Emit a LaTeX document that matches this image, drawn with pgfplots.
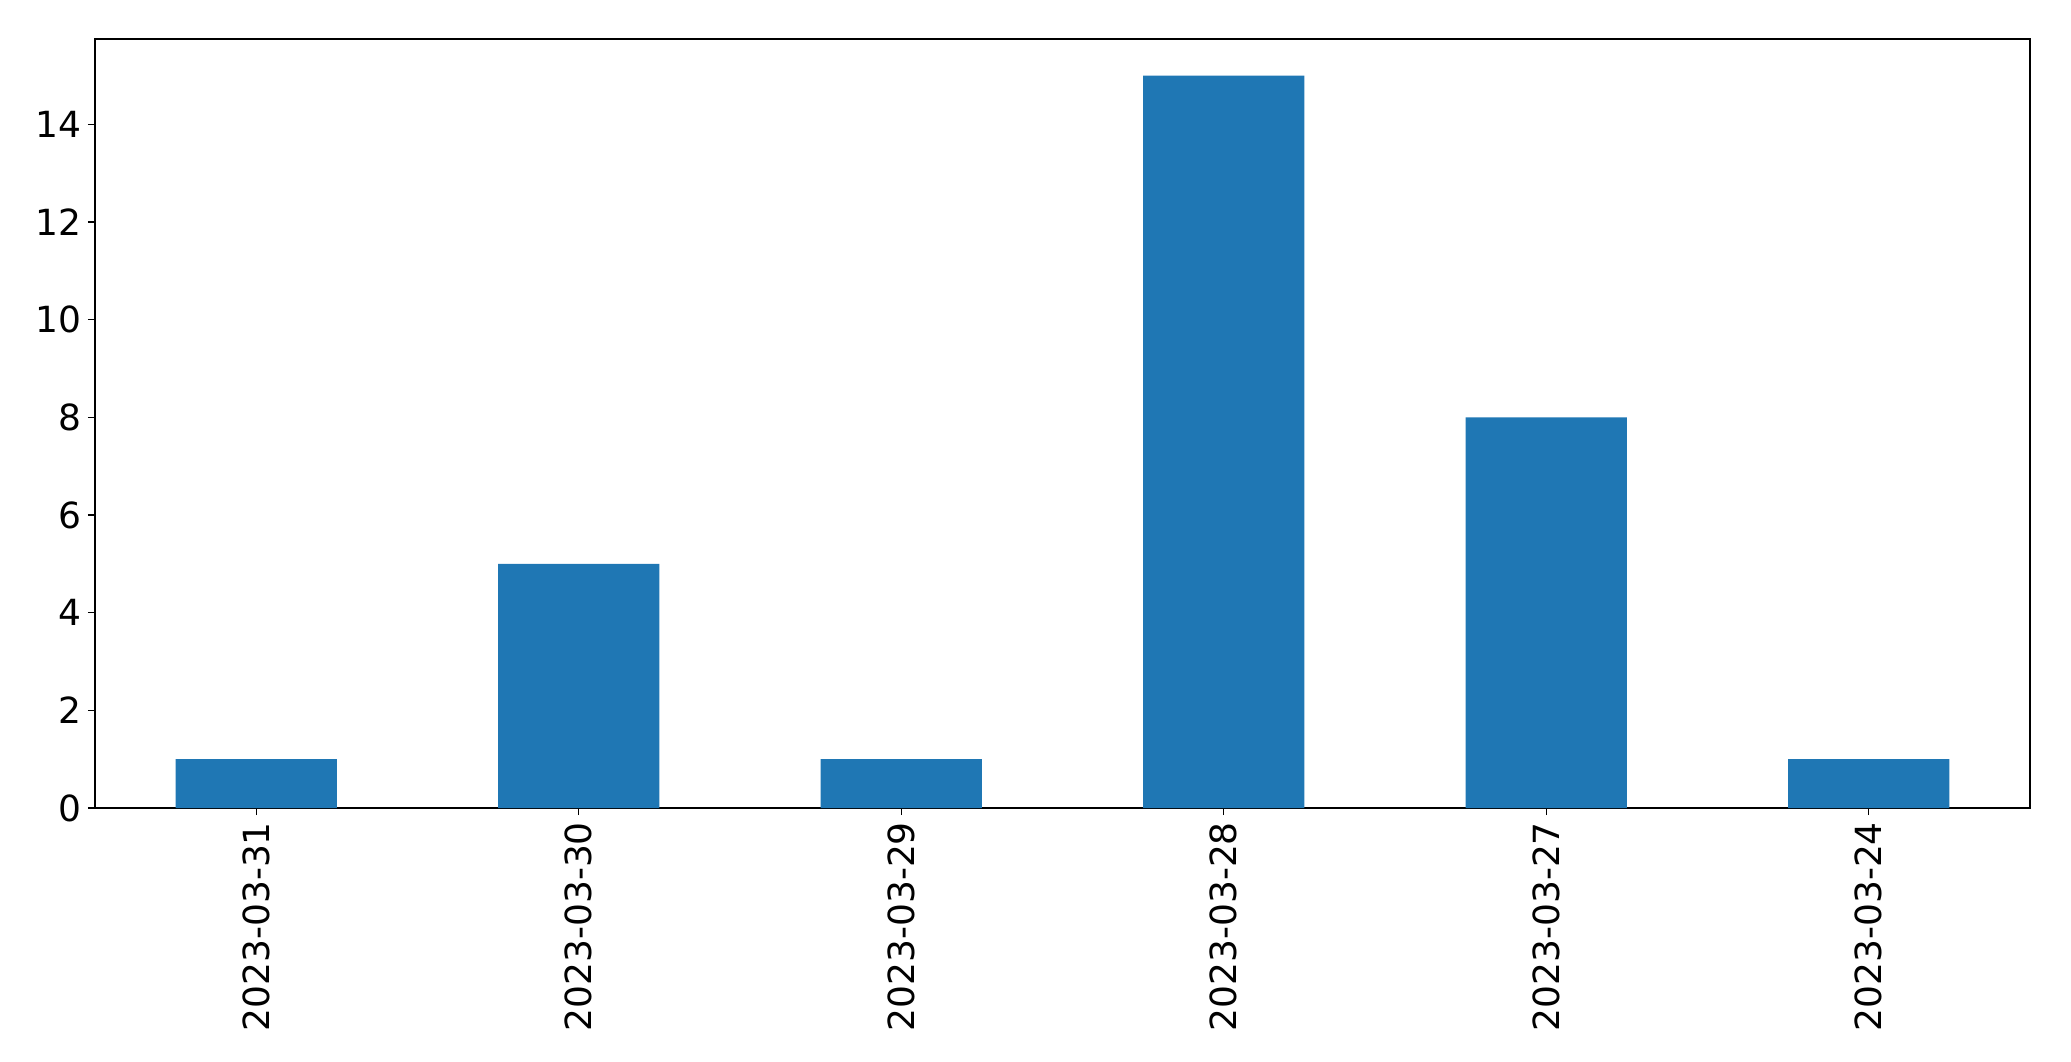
\documentclass[border=0pt]{standalone}
\usepackage{pgfplots}
\pgfplotsset{compat=1.18}
\usepackage{fontspec}
\setmainfont{DejaVu Sans}
\definecolor{mplblue}{HTML}{1F77B4}

\begin{document}
\begin{tikzpicture}
\useasboundingbox (-47.5pt,-126.5pt) rectangle (988pt,404pt);
\begin{axis}[
    at={(0,0)}, anchor=south west,
    scale only axis,
    width=967.5pt, height=384.5pt,
    xmin=-0.5, xmax=5.5,
    ymin=0, ymax=15.75,
    xtick={0,...,5},
    xticklabels={2023-03-31,2023-03-30,2023-03-29,2023-03-28,2023-03-27,2023-03-24},
    ytick={0,2,...,14},
    xticklabel style={rotate=90, anchor=east, font=\fontsize{18}{21}\selectfont},
    yticklabel style={font=\fontsize{18}{21}\selectfont},
    /pgf/number format/assume math mode=true,
    tick align=outside,
    tick pos=left,
    major tick length=3.5pt,
    every tick/.style={black, line width=0.6pt},
    axis line style={black, line width=0.6pt},
    ybar,
    bar width=0.5,
    bar shift=0pt,
]
\addplot[fill=mplblue, draw=none] coordinates {
    (0,1) (1,5) (2,1) (3,15) (4,8) (5,1)
};
\end{axis}
\end{tikzpicture}
\end{document}
